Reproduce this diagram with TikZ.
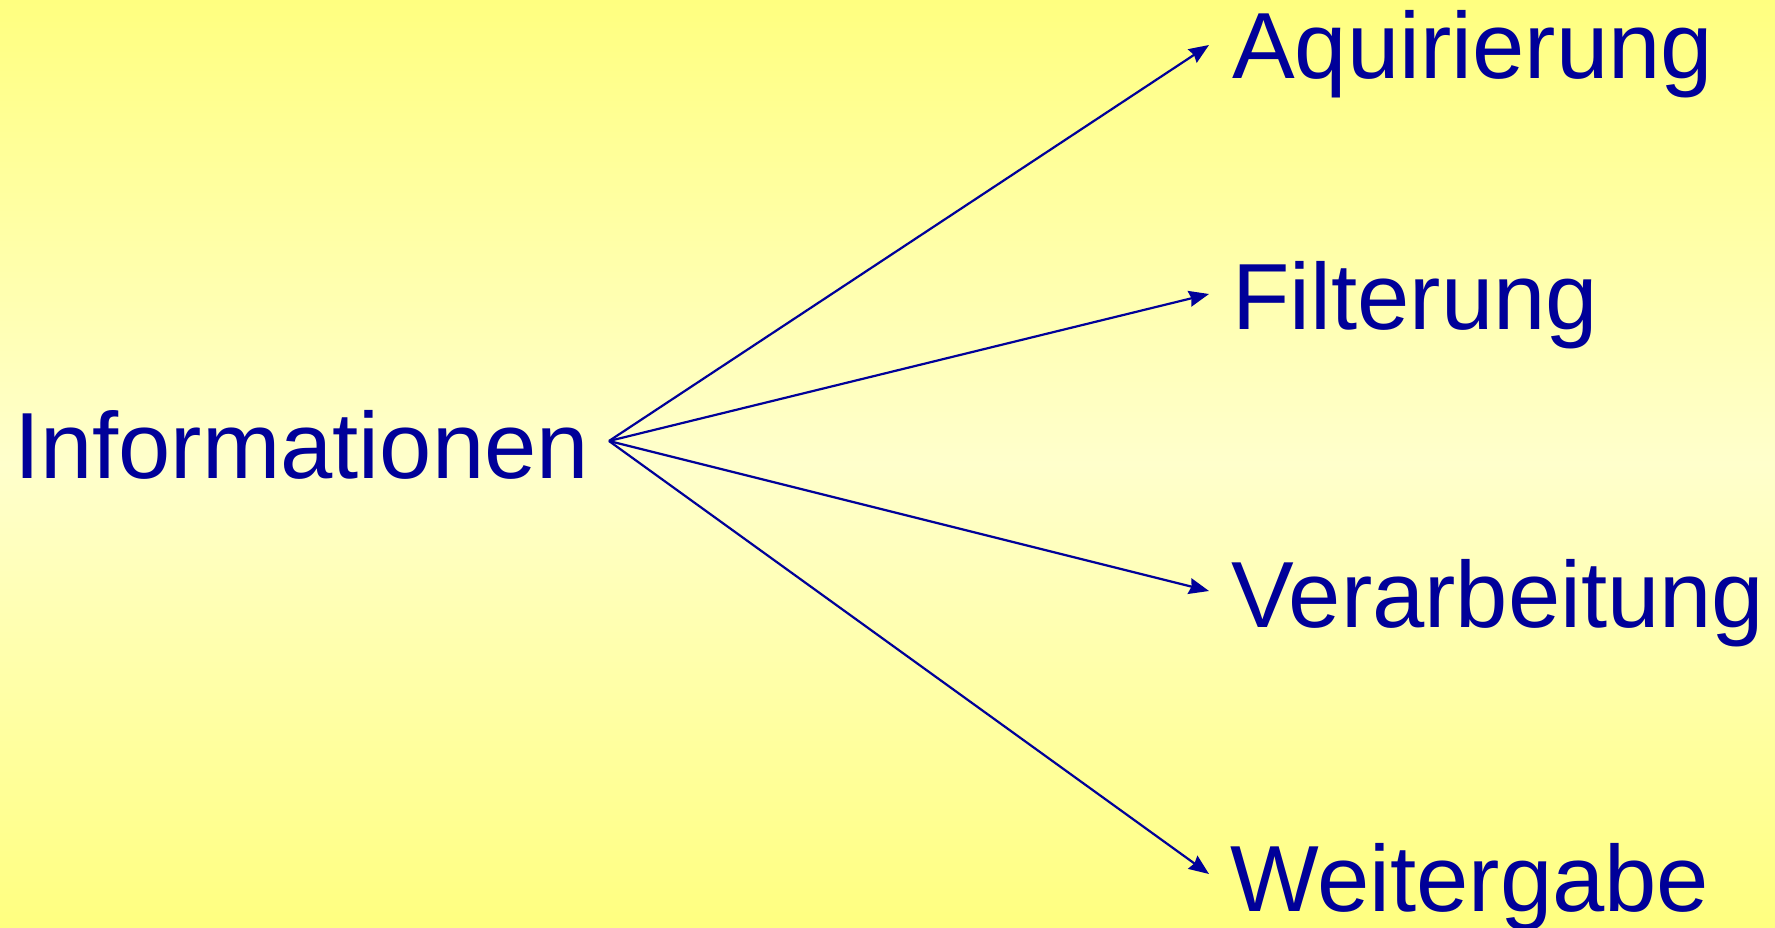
\documentclass[tikz,border=0pt]{standalone}
\usepackage{fontspec}
\setmainfont{Liberation Sans}
\usetikzlibrary{arrows.meta}
\definecolor{txtblue}{RGB}{0,0,153}
\definecolor{bgedge}{RGB}{255,255,128}
\definecolor{bgmid}{RGB}{255,255,204}
\tikzset{
  label/.style={anchor=base west, inner sep=0pt, text=txtblue, font=\fontsize{94}{108}\selectfont},
  conn/.style={draw=txtblue, line width=2.2pt, -{Stealth[length=20pt,width=16pt,inset=2pt]}}
}
\begin{document}
\begin{tikzpicture}[x=1pt,y=1pt]
\shade[top color=bgedge, bottom color=bgedge, middle color=bgmid, shading=axis] (0,0) rectangle (1775,927);
\useasboundingbox (0,0) rectangle (1775,927);
\node[label] (info) at (14,{927-479}) {Informationen};
\node[label] (aq) at (1232,{927-79}) {Aquirierung};
\node[label] (fi) at (1232,{927-330}) {Filterung};
\node[label] (ve) at (1231,{927-628}) {Verarbeitung};
\node[label] (we) at (1230,{927-911}) {Weitergabe};
\coordinate (o) at (609,{927-441});
\coordinate (ta) at (1209,{927-45});
\coordinate (tf) at (1209,{927-294});
\coordinate (tv) at (1209,{927-591});
\coordinate (tw) at (1209,{927-874});
\draw[conn] (o) -- (ta);
\draw[conn] (o) -- (tf);
\draw[conn] (o) -- (tv);
\draw[conn] (o) -- (tw);
\end{tikzpicture}
\end{document}
